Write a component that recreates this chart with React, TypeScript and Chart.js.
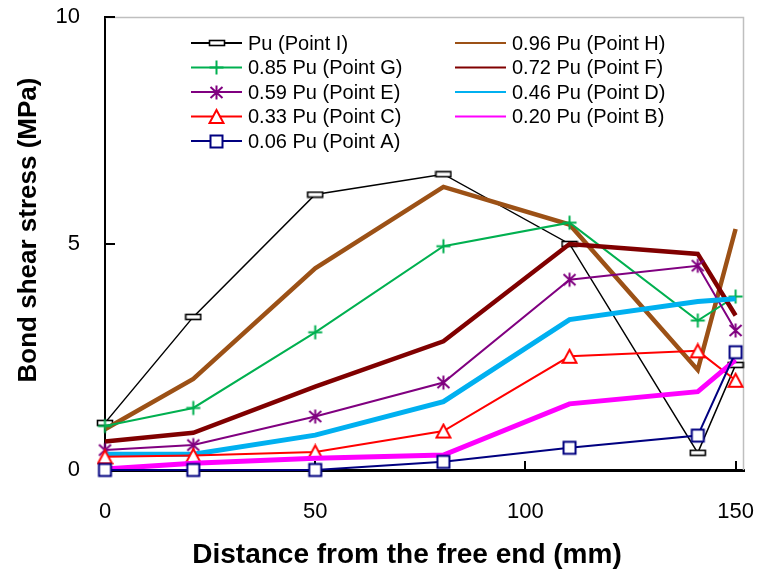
import React, { useEffect, useRef } from 'react';
import { Chart, registerables } from 'chart.js';
Chart.register(...registerables);

// ---- data ----
const distances = [0, 21, 50, 80.5, 110.5, 141, 150];
const seriesLabels = [
  'Pu (Point I)', '0.96 Pu (Point H)', '0.85 Pu (Point G)', '0.72 Pu (Point F)',
  '0.59 Pu (Point E)', '0.46 Pu (Point D)', '0.33 Pu (Point C)', '0.20 Pu (Point B)', '0.06 Pu (Point A)',
];
const pointI = [1.04, 3.38, 6.08, 6.53, 4.99, 0.38, 2.32];
const pointH = [0.9, 2.01, 4.45, 6.25, 5.42, 2.21, 5.32];
const pointG = [0.97, 1.37, 3.04, 4.94, 5.46, 3.3, 3.83];
const pointF = [0.63, 0.82, 1.84, 2.84, 4.99, 4.77, 3.41];
const pointE = [0.44, 0.55, 1.18, 1.93, 4.2, 4.51, 3.08];
const pointD = [0.35, 0.35, 0.77, 1.51, 3.32, 3.72, 3.78];
const pointC = [0.29, 0.32, 0.4, 0.86, 2.51, 2.63, 1.98];
const pointB = [0.02, 0.15, 0.26, 0.33, 1.46, 1.73, 2.43];
const pointA = [0.0, 0.0, 0.0, 0.18, 0.49, 0.76, 2.6];
const seriesValues = [pointI, pointH, pointG, pointF, pointE, pointD, pointC, pointB, pointA];
const xTicks = [0, 50, 100, 150];
const yTicks = [0, 5, 10];
const xTitle = 'Distance from the free end (mm)';
const yTitle = 'Bond shear stress (MPa)';

// ---- styles ----
const seriesStyles = [
  { color: '#000000', width: 1.5, marker: 'dash' },
  { color: '#9C5116', width: 4.5, marker: '' },
  { color: '#00B050', width: 2, marker: 'cross' },
  { color: '#800000', width: 4.5, marker: '' },
  { color: '#800080', width: 2, marker: 'star' },
  { color: '#00B0F0', width: 5, marker: '' },
  { color: '#FF0000', width: 2, marker: 'triangle' },
  { color: '#FF00FF', width: 5, marker: '' },
  { color: '#000080', width: 2, marker: 'square' },
];

const FONT = '"Liberation Sans", Arial, sans-serif';

function makeMarker(kind: string, color: string): HTMLCanvasElement | null {
  if (!kind) return null;
  const c = document.createElement('canvas');
  const g = c.getContext('2d')!;
  if (kind === 'dash') {
    c.width = 18; c.height = 8;
    g.strokeStyle = color; g.fillStyle = '#fff'; g.lineWidth = 1.6;
    g.fillRect(1.5, 1.5, 15, 5); g.strokeRect(1.5, 1.5, 15, 5);
    return c;
  }
  c.width = 17; c.height = 17;
  g.strokeStyle = color; g.fillStyle = '#fff'; g.lineWidth = 2;
  g.beginPath();
  if (kind === 'cross') {
    g.moveTo(1.5, 8.5); g.lineTo(15.5, 8.5);
    g.moveTo(8.5, 1.5); g.lineTo(8.5, 15.5);
    g.stroke();
  } else if (kind === 'star') {
    g.moveTo(8.5, 1.5); g.lineTo(8.5, 15.5);
    g.moveTo(2.5, 3); g.lineTo(14.5, 14);
    g.moveTo(14.5, 3); g.lineTo(2.5, 14);
    g.stroke();
  } else if (kind === 'triangle') {
    g.moveTo(8.5, 2); g.lineTo(15.5, 15); g.lineTo(1.5, 15); g.closePath();
    g.fill(); g.stroke();
  } else if (kind === 'square') {
    g.rect(2.5, 2.5, 12, 12);
    g.fill(); g.stroke();
  }
  return c;
}

function zeroPadding(s: any) {
  s.paddingTop = 0;
  s.paddingBottom = 0;
  s.paddingLeft = 0;
  s.paddingRight = 0;
}

export default function App() {
  const ref = useRef<HTMLCanvasElement | null>(null);
  useEffect(() => {
    const canvas = ref.current!;
    const markers = seriesStyles.map((s) => makeMarker(s.marker, s.color));
    const n = seriesLabels.length;

    const datasets = seriesLabels.map((label, i) => ({
      label,
      data: distances.map((x, j) => ({ x, y: seriesValues[i][j] })),
      borderColor: seriesStyles[i].color,
      backgroundColor: seriesStyles[i].color,
      borderWidth: seriesStyles[i].width,
      tension: 0,
      fill: false,
      clip: false as any,
      order: n - i,
      pointStyle: (markers[i] || 'circle') as any,
      pointRadius: markers[i] ? 6 : 0,
      pointHoverRadius: markers[i] ? 6 : 0,
    }));

    const decor = {
      id: 'decor',
      beforeDatasetsDraw(chart: any) {
        const { ctx, chartArea: a } = chart;
        ctx.save();
        ctx.strokeStyle = '#BFBFBF';
        ctx.lineWidth = 1.5;
        ctx.beginPath();
        ctx.moveTo(a.left, a.top + 0.5);
        ctx.lineTo(a.right - 0.5, a.top + 0.5);
        ctx.lineTo(a.right - 0.5, a.bottom);
        ctx.stroke();
        ctx.strokeStyle = '#000';
        ctx.lineWidth = 2;
        const xs = chart.scales.x;
        const ys = chart.scales.y;
        ctx.beginPath();
        xTicks.forEach((v) => {
          const px = Math.round(xs.getPixelForValue(v));
          ctx.moveTo(px, a.bottom);
          ctx.lineTo(px, a.bottom - 9);
        });
        yTicks.forEach((v) => {
          const py = Math.round(ys.getPixelForValue(v));
          ctx.moveTo(a.left, py);
          ctx.lineTo(a.left + 10, py);
        });
        ctx.stroke();
        ctx.restore();
      },
      afterDraw(chart: any) {
        const { ctx } = chart;
        ctx.save();
        // legend
        ctx.font = `20px ${FONT}`;
        ctx.textBaseline = 'middle';
        ctx.textAlign = 'left';
        chart.data.datasets.forEach((ds: any, i: number) => {
          const col = i % 2;
          const row = Math.floor(i / 2);
          const x0 = col === 0 ? 191 : 455;
          const y = 43 + row * 24.5;
          ctx.strokeStyle = ds.borderColor;
          ctx.lineWidth = 2;
          ctx.beginPath();
          ctx.moveTo(x0, y);
          ctx.lineTo(x0 + 51, y);
          ctx.stroke();
          const m = markers[i];
          if (m) ctx.drawImage(m, Math.round(x0 + 25.5 - m.width / 2), Math.round(y - m.height / 2));
          ctx.fillStyle = '#000';
          ctx.fillText(ds.label, x0 + 57, y + 1);
        });
        // axis titles
        ctx.fillStyle = '#000';
        ctx.font = `bold 28px ${FONT}`;
        ctx.textAlign = 'center';
        ctx.textBaseline = 'alphabetic';
        ctx.fillText(xTitle, 407, 563);
        ctx.translate(36, 230);
        ctx.rotate(-Math.PI / 2);
        ctx.font = `bold 26px ${FONT}`;
        ctx.fillText(yTitle, 0, 0);
        ctx.restore();
      },
    };

    const chart = new Chart(canvas, {
      type: 'line',
      data: { datasets: datasets as any },
      options: {
        animation: false,
        responsive: false,
        maintainAspectRatio: false,
        layout: { padding: { top: 17, right: 16, left: 0, bottom: 0 } },
        plugins: { legend: { display: false }, tooltip: { enabled: false }, title: { display: false } },
        scales: {
          x: {
            type: 'linear',
            min: 0,
            max: 152,
            afterBuildTicks: (s: any) => { s.ticks = xTicks.map((v) => ({ value: v })); },
            afterFit: (s: any) => { s.height = 106; zeroPadding(s); },
            grid: { display: false, drawTicks: false },
            border: { display: true, color: '#000', width: 3 },
            ticks: { color: '#000', font: { size: 22, family: FONT }, padding: 29, maxRotation: 0 },
          },
          y: {
            type: 'linear',
            min: 0,
            max: 10,
            afterBuildTicks: (s: any) => { s.ticks = yTicks.map((v) => ({ value: v })); },
            afterFit: (s: any) => { s.width = 105; zeroPadding(s); },
            grid: { display: false, drawTicks: false },
            border: { display: true, color: '#000', width: 2 },
            ticks: { color: '#000', font: { size: 22, family: FONT }, padding: 25 },
          },
        },
      },
      plugins: [decor],
    });
    return () => chart.destroy();
  }, []);

  return (
    <div style={{ position: 'absolute', left: 0, top: 0, width: 760, height: 576, background: '#fff' }}>
      <canvas ref={ref} width={760} height={576} style={{ width: 760, height: 576, display: 'block' }} />
    </div>
  );
}
